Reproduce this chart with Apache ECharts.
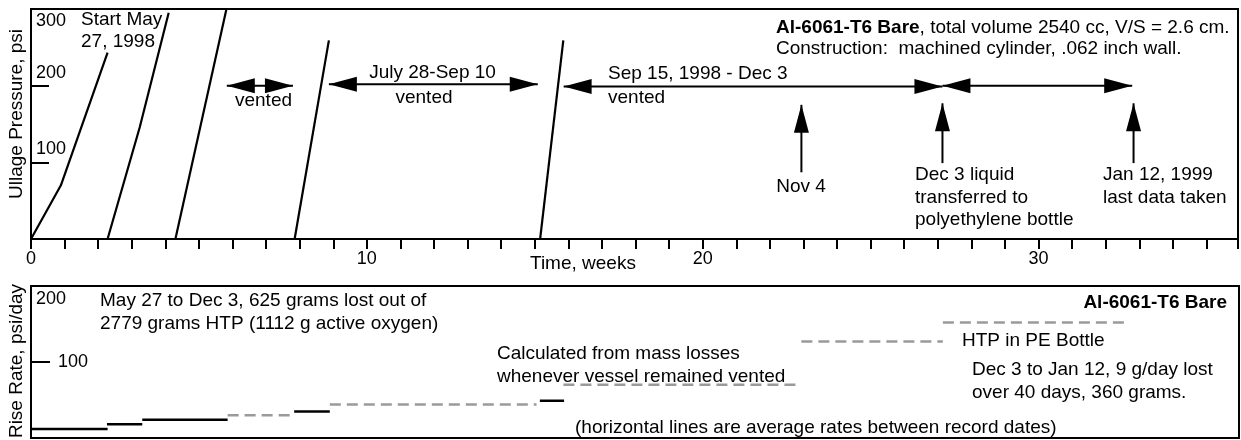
<!DOCTYPE html>
<html>
<head>
<meta charset="utf-8">
<script src="https://cdn.jsdelivr.net/npm/echarts@6/dist/echarts.min.js"></script>
<style>
  html, body { margin: 0; padding: 0; background: #fff; }
  #chart { width: 1241px; height: 440px; }
</style>
</head>
<body>
<div id="chart"></div>
<script>
// ---------- data ----------
const weeksMax = 35.94;
const xTickLabels = [0, 10, 20, 30];
const pressureTicks = [100, 200, 300];
const rateTicks = [100, 200];

// pressure rise runs: [weeks, psi]
const run1 = [[0, 0], [0.89, 70], [2.28, 243]];
const run2 = [[2.28, 0], [3.24, 146], [4.10, 295]];
const run3 = [[4.30, 0], [5.82, 300]];
const run4 = [[7.85, 0], [8.87, 259]];
const run5 = [[15.16, 0], [15.85, 259]];

// average rise rates between record dates
const rateStart = [0, 2.26, 3.31, 5.85, 7.83, 8.89, 15.14, 15.84, 22.92, 27.13];
const rateEnd   = [2.28, 3.31, 5.85, 7.83, 8.89, 15.04, 15.86, 22.92, 27.13, 32.53];
const rateValue = [12, 18, 24, 30, 35, 44, 49, 70, 127, 152];
const rateFromMass = [0, 0, 0, 1, 0, 1, 0, 1, 1, 1];

// annotation arrows (weeks, psi)
const arrowFrom = [[5.83, 200], [8.87, 202], [15.86, 199], [27.14, 200], [22.94, 87], [27.14, 99], [32.83, 99]];
const arrowTo   = [[7.80, 200], [15.09, 202], [27.14, 199], [32.79, 200], [22.94, 175], [27.14, 177], [32.83, 177]];
const arrowBoth = [1, 1, 1, 1, 0, 0, 0];

// ---------- styling helpers ----------
const FF = '"Liberation Sans", Arial, Helvetica, sans-serif';
const FS = 19;

function textLines(x, y, align, text, opts) {
  opts = opts || {};
  const spacing = opts.spacing || 22.5;
  return text.split('\n').map((line, i) => ({
    type: 'text',
    x: x,
    y: y + i * spacing,
    silent: true,
    style: Object.assign({
      text: line,
      fill: '#000',
      fontSize: opts.fontSize || FS,
      fontFamily: FF,
      fontWeight: opts.bold ? 'bold' : 'normal',
      align: align, textAlign: align,
      verticalAlign: 'middle', textVerticalAlign: 'middle'
    }, opts.style || {})
  }));
}

const chart = echarts.init(document.getElementById('chart'), null, { renderer: 'canvas' });

const runSeries = [run1, run2, run3, run4, run5].map(r => ({
  type: 'line', xAxisIndex: 0, yAxisIndex: 0, data: r,
  showSymbol: false, symbol: 'none', silent: true,
  lineStyle: { color: '#000', width: 2.2 },
  animation: false
}));

const arrowData = arrowFrom.map((p, i) => [p[0], p[1], arrowTo[i][0], arrowTo[i][1], arrowBoth[i]]);
const rateData = rateValue.map((v, i) => [rateStart[i], rateEnd[i], v, rateFromMass[i]]);

function renderArrow(params, api) {
  const a = api.coord([api.value(0), api.value(1)]);
  const b = api.coord([api.value(2), api.value(3)]);
  const both = api.value(4) === 1;
  const dx = b[0] - a[0], dy = b[1] - a[1];
  const len = Math.hypot(dx, dy) || 1;
  const ux = dx / len, uy = dy / len;
  const nx = -uy, ny = ux;
  const L = 28, W = 7.5;
  const head = (t, sx, sy) => ({
    type: 'polygon',
    shape: { points: [[t[0], t[1]], [t[0] - sx * L + nx * W, t[1] - sy * L + ny * W], [t[0] - sx * L - nx * W, t[1] - sy * L - ny * W]] },
    style: { fill: '#000' }
  });
  const children = [{
    type: 'line', shape: { x1: a[0], y1: a[1], x2: b[0], y2: b[1] },
    style: { stroke: '#000', lineWidth: 2 }
  }, head(b, ux, uy)];
  if (both) children.push(head(a, -ux, -uy));
  return { type: 'group', children: children };
}

function renderRate(params, api) {
  const v = api.value(2);
  const a = api.coord([api.value(0), v]);
  const b = api.coord([api.value(1), v]);
  const dashed = api.value(3) === 1;
  return {
    type: 'line',
    shape: { x1: a[0], y1: a[1], x2: b[0], y2: b[1] },
    style: { stroke: dashed ? '#9a9a9a' : '#000', lineWidth: 2.5, lineDash: dashed ? [11, 6] : null }
  };
}

const tickLabelStyle = { fontSize: 18, fontFamily: FF, color: '#000' };

const graphics = [].concat(
  textLines(81, 20, 'left', 'Start May\n27, 1998', { spacing: 22 }),
  textLines(263.5, 101, 'center', 'vented'),
  textLines(432.5, 73, 'center', 'July 28-Sep 10'),
  textLines(424, 98, 'center', 'vented'),
  textLines(608, 74, 'left', 'Sep 15, 1998 - Dec 3'),
  textLines(608, 98, 'left', 'vented'),
  textLines(801, 187, 'center', 'Nov 4'),
  textLines(915, 175, 'left', 'Dec 3 liquid\ntransferred to\npolyethylene bottle'),
  textLines(1103, 175, 'left', 'Jan 12, 1999\nlast data taken'),
  [{
    type: 'text', x: 776, y: 28, silent: true,
    style: {
      text: '{b|Al-6061-T6 Bare}, total volume 2540 cc, V/S = 2.6 cm.',
      rich: { b: { fontWeight: 'bold', fontSize: FS, fontFamily: FF, fill: '#000', color: '#000' } },
      fill: '#000', fontSize: FS, fontFamily: FF,
      align: 'left', textAlign: 'left', verticalAlign: 'middle', textVerticalAlign: 'middle'
    }
  }],
  textLines(776, 49, 'left', 'Construction:  machined cylinder, .062 inch wall.'),
  textLines(530, 263.5, 'left', 'Time, weeks'),
  textLines(100, 301, 'left', 'May 27 to Dec 3, 625 grams lost out of\n2779 grams HTP (1112 g active oxygen)'),
  textLines(497, 354, 'left', 'Calculated from mass losses\nwhenever vessel remained vented'),
  textLines(575, 428, 'left', '(horizontal lines are average rates between record dates)'),
  textLines(1227, 303, 'right', 'Al-6061-T6 Bare', { bold: true }),
  textLines(962, 341, 'left', 'HTP in PE Bottle'),
  textLines(972, 370, 'left', 'Dec 3 to Jan 12, 9 g/day lost\nover 40 days, 360 grams.'),
  [{
    type: 'text', x: 17, y: 114, rotation: Math.PI / 2, silent: true,
    style: { text: 'Ullage Pressure, psi', fill: '#000', fontSize: FS, fontFamily: FF,
      align: 'center', textAlign: 'center', verticalAlign: 'middle', textVerticalAlign: 'middle' }
  }, {
    type: 'text', x: 17, y: 361, rotation: Math.PI / 2, silent: true,
    style: { text: 'Rise Rate, psi/day', fill: '#000', fontSize: FS, fontFamily: FF,
      align: 'center', textAlign: 'center', verticalAlign: 'middle', textVerticalAlign: 'middle' }
  }]
);

const option = {
  animation: false,
  backgroundColor: '#fff',
  grid: [
    { left: 31, top: 9, width: 1208, height: 230, show: true, borderColor: '#000', borderWidth: 2, backgroundColor: 'transparent' },
    { left: 31, top: 286, width: 1208, height: 152, show: true, borderColor: '#000', borderWidth: 2, backgroundColor: 'transparent' }
  ],
  xAxis: [
    {
      type: 'value', gridIndex: 0, min: 0, max: weeksMax, interval: 1,
      axisLine: { show: true, lineStyle: { color: '#000', width: 2 } },
      axisTick: { show: true, inside: false, length: 10, lineStyle: { color: '#000', width: 2 } },
      axisLabel: {
        show: true, margin: 11, ...tickLabelStyle,
        formatter: v => (xTickLabels.indexOf(Math.round(v * 1000) / 1000) >= 0 ? String(v) : '')
      },
      splitLine: { show: false }
    },
    {
      type: 'value', gridIndex: 1, min: 0, max: weeksMax, interval: 1,
      axisLine: { show: true, lineStyle: { color: '#000', width: 2 } },
      axisTick: { show: false }, axisLabel: { show: false }, splitLine: { show: false }
    }
  ],
  yAxis: [
    {
      type: 'value', gridIndex: 0, min: 0, max: 300, interval: 100,
      axisLine: { show: true, lineStyle: { color: '#000', width: 2 } },
      axisTick: { show: true, inside: true, length: 18, lineStyle: { color: '#000', width: 2 } },
      axisLabel: {
        show: true, inside: true, margin: 5, ...tickLabelStyle,
        formatter: v => pressureTicks.indexOf(v) < 0 ? '' : (v === 300 ? '{dn|' + v + '}' : '{up|' + v + '}'),
        rich: {
          up: { padding: [0, 0, 26, 0], ...tickLabelStyle },
          dn: { padding: [25, 0, 0, 0], ...tickLabelStyle }
        }
      },
      splitLine: { show: false }
    },
    {
      type: 'value', gridIndex: 1, min: 0, max: 200, interval: 100,
      axisLine: { show: true, lineStyle: { color: '#000', width: 2 } },
      axisTick: { show: true, inside: true, length: 19, lineStyle: { color: '#000', width: 2 } },
      axisLabel: {
        show: true, inside: true, margin: 5, ...tickLabelStyle,
        formatter: v => rateTicks.indexOf(v) < 0 ? '' : (v === 200 ? '{dn|' + v + '}' : '{rt|' + v + '}'),
        rich: {
          dn: { padding: [26, 0, 0, 0], ...tickLabelStyle },
          rt: { padding: [0, 0, 0, 22], ...tickLabelStyle }
        }
      },
      splitLine: { show: false }
    }
  ],
  series: runSeries.concat([
    {
      type: 'custom', xAxisIndex: 0, yAxisIndex: 0, silent: true,
      renderItem: renderArrow, data: arrowData,
      encode: { x: [0, 2], y: [1, 3] }, animation: false
    },
    {
      type: 'custom', xAxisIndex: 1, yAxisIndex: 1, silent: true,
      renderItem: renderRate, data: rateData,
      encode: { x: [0, 1], y: 2 }, animation: false
    }
  ]),
  graphic: graphics
};

chart.setOption(option);
</script>
</body>
</html>
